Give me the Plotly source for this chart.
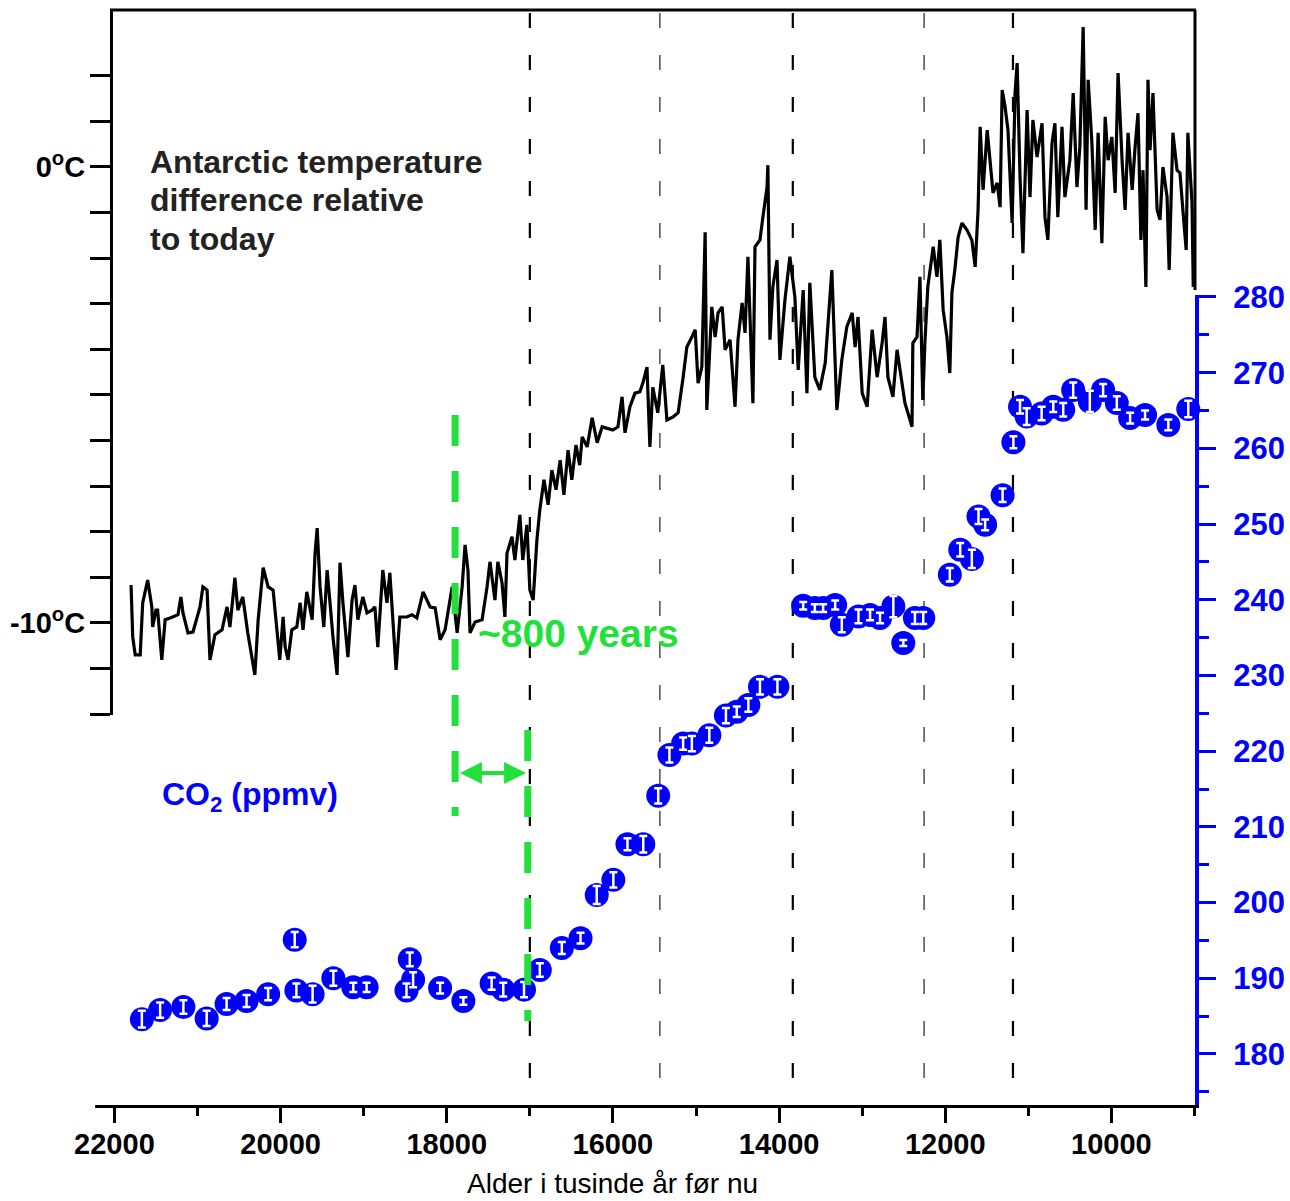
import plotly.graph_objects as go

W, H = 1290, 1201

# ---------------- data ----------------
temp_years = [
    21800, 21780, 21750, 21690, 21660, 21600, 21550, 21540, 21500, 21480,
    21430, 21390, 21330, 21235, 21200, 21175, 21115, 21055, 20970, 20935,
    20885, 20850, 20790, 20705, 20645, 20610, 20550, 20515, 20455, 20395,
    20310, 20270, 20210, 20150, 20090, 20045, 20010, 19970, 19945, 19910,
    19865, 19805, 19765, 19730, 19685, 19620, 19585, 19560, 19525, 19480,
    19440, 19405, 19370, 19320, 19285, 19250, 19190, 19140, 19105, 19070,
    19010, 18960, 18900, 18865, 18830, 18770, 18720, 18685, 18645, 18610,
    18565, 18480, 18420, 18360, 18285, 18200, 18140, 18080, 18020, 17935,
    17875, 17815, 17780, 17745, 17720, 17660, 17575, 17515, 17480, 17420,
    17385, 17335, 17300, 17275, 17215, 17180, 17120, 17085, 17035, 17000,
    16960, 16915, 16880, 16830, 16780, 16735, 16685, 16635, 16590, 16540,
    16495, 16445, 16400, 16370, 16310, 16250, 16190, 16130, 16000, 15940,
    15890, 15855, 15795, 15735, 15675, 15640, 15590, 15555, 15520, 15460,
    15400, 15350, 15275, 15215, 15155, 15110, 15050, 15010, 14975, 14930,
    14890, 14870, 14810, 14770, 14735, 14685, 14650, 14590, 14530, 14495,
    14445, 14410, 14375, 14315, 14290, 14230, 14195, 14145, 14135, 14110,
    14075, 14025, 13990, 13930, 13870, 13810, 13770, 13710, 13665, 13630,
    13570, 13510, 13445, 13365, 13305, 13245, 13185, 13120, 13085, 13050,
    13000, 12940, 12880, 12820, 12760, 12725, 12690, 12630, 12580, 12545,
    12485, 12450, 12400, 12390, 12340, 12305, 12270, 12245, 12210, 12145,
    12100, 12065, 12025, 11980, 11945, 11920, 11885, 11845, 11800, 11740,
    11680, 11640, 11605, 11580, 11545, 11495, 11460, 11425, 11375, 11340,
    11315, 11280, 11245, 11195, 11160, 11135, 11100, 11065, 11015, 10980,
    10945, 10895, 10835, 10800, 10765, 10715, 10680, 10645, 10595, 10560,
    10500, 10460, 10415, 10380, 10340, 10305, 10280, 10235, 10195, 10160,
    10115, 10075, 10040, 9995, 9955, 9920, 9870, 9835, 9800, 9750,
    9715, 9680, 9645, 9620, 9585, 9560, 9535, 9500, 9450, 9415,
    9380, 9330, 9305, 9260, 9210, 9175, 9140, 9100, 9080, 9030, 9015,
]
temp_values = [
    -9.17, -10.31, -10.70, -10.70, -9.56, -9.06, -9.65, -10.09, -9.72, -9.72,
    -10.81, -9.93, -9.89, -9.82, -9.43, -9.78, -10.22, -10.20, -9.65, -9.21,
    -9.28, -10.81, -10.26, -10.15, -9.65, -10.09, -9.01, -9.72, -9.43, -10.22,
    -11.14, -9.93, -8.79, -9.21, -9.28, -10.09, -10.81, -9.87, -10.53, -10.81,
    -10.15, -10.09, -9.56, -10.15, -9.32, -9.93, -8.47, -7.92, -9.21, -10.09,
    -8.84, -9.56, -10.31, -11.14, -8.68, -9.56, -10.75, -9.50, -9.17, -9.93,
    -9.43, -9.78, -9.72, -9.65, -10.53, -8.84, -9.56, -8.90, -9.93, -11.03,
    -9.87, -9.87, -9.82, -9.89, -9.32, -9.65, -9.67, -10.37, -10.15, -9.21,
    -10.22, -9.21, -8.29, -8.84, -10.22, -9.98, -9.93, -9.21, -8.66, -9.50,
    -8.66, -9.12, -9.87, -8.47, -8.11, -8.62, -7.63, -8.62, -7.85, -9.28,
    -9.50, -8.18, -7.52, -6.86, -7.41, -6.65, -7.08, -6.43, -7.19, -6.21,
    -6.86, -6.10, -6.54, -5.92, -6.14, -5.50, -6.05, -5.70, -5.77, -5.70,
    -5.04, -5.83, -5.26, -4.96, -4.93, -4.74, -4.39, -6.14, -4.83, -5.39,
    -4.34, -5.55, -5.48, -5.39, -4.61, -3.95, -3.73, -3.57, -4.74, -4.39,
    -1.43, -5.33, -3.07, -3.73, -3.20, -3.07, -4.01, -3.79, -5.26, -3.79,
    -2.98, -3.64, -1.97, -5.18, -1.75, -1.60, -1.10, -0.44, 0.04, -3.79,
    -2.63, -2.04, -4.23, -2.92, -1.97, -2.85, -4.45, -2.70, -4.96, -2.54,
    -4.61, -4.89, -4.30, -2.26, -5.33, -4.23, -3.51, -3.20, -3.95, -3.29,
    -4.96, -5.26, -3.57, -4.61, -3.86, -3.29, -4.61, -5.04, -4.01, -4.45,
    -5.18, -5.39, -5.70, -3.86, -3.73, -2.41, -5.11, -3.86, -2.63, -1.75,
    -2.41, -1.60, -3.14, -3.73, -4.52, -2.76, -2.26, -1.54, -1.23, -1.38,
    -1.60, -2.19, -0.94, 0.88, -0.50, 0.81, 0.09, -0.57, -0.35, -0.88,
    1.69, 1.32, 0.81, -1.23, 1.62, 2.28, -0.22, -1.89, 1.25, -0.66,
    1.03, 0.22, 0.96, -1.10, -1.60, 0.53, 0.96, -1.10, 0.88, -0.66,
    0.15, 1.62, -0.44, 0.44, 3.07, -0.94, 1.91, 0.53, -1.38, 0.75,
    -1.67, 1.10, 0.15, 0.66, -0.57, 2.06, 0.09, -0.94, 0.75, -0.50,
    0.44, 1.18, -1.60, -0.07, -2.63, 1.91, 0.37, 1.62, -0.94, -1.16,
    0.00, -0.66, -2.26, 0.75, -0.07, -0.13, -0.94, -1.82, 0.75, -0.79, -2.63,
]

co2_years = [
    21670, 21450, 21170, 20890, 20650, 20410, 20150, 19830, 19810, 19615,
    19365, 19125, 18965, 18485, 18445, 18405, 18080, 17800, 17460, 17320,
    17070, 16880, 16615, 16390, 16195, 15995, 15825, 15635, 15455, 15320,
    15155, 15050, 14840, 14640, 14510, 14370, 14230, 14020, 13710, 13570,
    13470, 13325, 13245, 13045, 12905, 12785, 12625, 12505, 12365, 12265,
    11945, 11820, 11680, 11600, 11520, 11310, 11180, 11100, 11020, 10840,
    10700, 10580, 10460, 10260, 10100, 9935, 9775, 9595, 9315, 9075,
]
co2_ppm = [
    184.6, 185.8, 186.2, 184.7, 186.6, 187.0, 187.9, 195.1, 188.4, 187.9,
    190.0, 188.8, 188.8, 188.4, 192.5, 189.8, 188.7, 187.0, 189.3, 188.5,
    188.5, 191.1, 194.0, 195.3, 201.0, 203.0, 207.7, 207.7, 214.1, 219.5,
    221.0, 221.0, 222.1, 224.7, 225.2, 226.1, 228.5, 228.5, 239.2, 238.9,
    238.9, 239.3, 236.7, 237.8, 238.0, 237.6, 239.1, 234.3, 237.6, 237.6,
    243.3, 246.6, 245.4, 251.0, 249.9, 253.8, 260.8, 265.5, 264.2, 264.6,
    265.5, 265.1, 267.7, 266.2, 267.7, 266.0, 264.0, 264.4, 263.1, 265.2,
]
co2_err = [
    1.1, 1.0, 0.9, 1.0, 0.8, 0.8, 0.8, 1.0, 0.9, 1.1,
    1.0, 0.6, 0.6, 0.9, 0.9, 1.0, 0.7, 0.5, 0.8, 0.9,
    1.0, 0.9, 0.8, 0.7, 1.2, 1.0, 0.8, 1.1, 1.0, 1.0,
    0.8, 1.0, 1.0, 1.0, 0.7, 0.9, 1.0, 1.0, 0.5, 0.5,
    0.5, 0.6, 1.0, 0.9, 0.7, 0.7, 1.4, 0.4, 0.8, 0.8,
    0.9, 0.9, 1.2, 1.0, 0.7, 0.9, 0.8, 0.9, 1.1, 0.9,
    0.7, 0.9, 1.0, 1.4, 0.8, 0.9, 0.7, 0.6, 0.7, 1.1,
]

event_years = [17000, 15435, 13835, 12255, 11185]
event_strong = [True, False, True, False, True]
lead_years = [17900, 17025]          # green markers of the CO2 lag
lag_text = "~800 years"
temp_label_lines = ["Antarctic temperature", "difference relative", "to today"]

temp_tick_vals = [-10, 0]
temp_tick_text = ["-10<sup>o</sup>C", "0<sup>o</sup>C"]
temp_minor_vals = [-12, -11, -9, -8, -7, -6, -5, -4, -3, -2, -1, 1, 2]

BLUE = "#0000FF"
GREEN = "#22E03A"
FONT = "Liberation Sans"


def px_x(p):
    return p / W


def px_y(p):
    return 1 - p / H


fig = go.Figure()

fig.add_trace(go.Scatter(
    x=temp_years, y=temp_values, xaxis="x", yaxis="y2", mode="lines",
    line=dict(color="black", width=3.2), hoverinfo="skip"))

fig.add_trace(go.Scatter(
    x=co2_years, y=co2_ppm, xaxis="x", yaxis="y", mode="markers",
    marker=dict(color=BLUE, size=24, line=dict(width=0)), cliponaxis=False,
    hoverinfo="skip"))

fig.add_trace(go.Scatter(
    x=co2_years, y=co2_ppm, xaxis="x", yaxis="y", mode="markers",
    marker=dict(color="rgba(0,0,0,0)", size=1),
    error_y=dict(type="data", array=co2_err, visible=True, color="white",
                 thickness=2.5, width=4),
    cliponaxis=False, hoverinfo="skip"))

shapes = []
for yr, strong in zip(event_years, event_strong):
    shapes.append(dict(type="line", xref="x", yref="paper", x0=yr, x1=yr,
                       y0=px_y(13), y1=px_y(1102), layer="below",
                       line=dict(color="black" if strong else "#333333",
                                 width=2.2 if strong else 1.3, dash="15px,27px")))

# temperature panel frame (top and upper right)
shapes.append(dict(type="line", xref="paper", yref="paper", x0=px_x(110), x1=px_x(1196),
                   y0=px_y(10), y1=px_y(10), line=dict(color="black", width=3)))
shapes.append(dict(type="line", xref="paper", yref="paper", x0=px_x(1195), x1=px_x(1195),
                   y0=px_y(10), y1=px_y(290), line=dict(color="black", width=3)))

# green lag markers
shapes.append(dict(type="line", xref="x", yref="paper", x0=lead_years[0], x1=lead_years[0],
                   y0=px_y(415), y1=px_y(816), line=dict(color=GREEN, width=7, dash="31px,25px")))
shapes.append(dict(type="line", xref="x", yref="paper", x0=lead_years[1], x1=lead_years[1],
                   y0=px_y(730), y1=px_y(1021), line=dict(color=GREEN, width=7, dash="31px,25px")))

annotations = [
    dict(x=lead_years[1] + 20, y=px_y(773), xref="x", yref="paper",
         ax=lead_years[0] - 40, ay=0, axref="x", ayref="pixel",
         showarrow=True, arrowside="end+start", arrowhead=2, startarrowhead=2,
         arrowsize=1.1, startarrowsize=1.1, arrowwidth=4, arrowcolor=GREEN,
         standoff=0, startstandoff=0, text=""),
    dict(x=px_x(476), y=px_y(633), xref="paper", yref="paper", xanchor="left",
         yanchor="middle", showarrow=False, text=lag_text,
         font=dict(family=FONT, size=39, color=GREEN, weight="bold")),
    dict(x=px_x(160), y=px_y(796), xref="paper", yref="paper", xanchor="left",
         yanchor="middle", showarrow=False, text="CO<sub>2</sub> (ppmv)",
         font=dict(family=FONT, size=32, color=BLUE, weight="bold")),
    dict(x=px_x(612), y=0, xref="paper", yref="paper", xanchor="center",
         yanchor="bottom", showarrow=False, text="Alder i tusinde år før nu",
         font=dict(family=FONT, size=28, color="black")),
]
for line_text, line_y in zip(temp_label_lines, [162, 200, 239]):
    annotations.append(dict(
        x=px_x(148), y=px_y(line_y), xref="paper", yref="paper", xanchor="left",
        yanchor="middle", align="left", showarrow=False, text=line_text,
        font=dict(family=FONT, size=32, color="#222222", weight="bold")))

fig.update_layout(
    width=W, height=H, autosize=False, template="none",
    margin=dict(l=0, r=0, t=0, b=0, pad=0),
    paper_bgcolor="white", plot_bgcolor="rgba(0,0,0,0)",
    showlegend=False, font=dict(family=FONT, color="black"),
    shapes=shapes, annotations=annotations,
    xaxis=dict(
        domain=[px_x(95), px_x(1195)], range=[22234, 8994], anchor="y",
        showgrid=False, zeroline=False, showline=True, linecolor="black", linewidth=3,
        tickmode="linear", tick0=0, dtick=2000, tickformat="d",
        ticks="outside", ticklen=15, tickwidth=3, tickcolor="black",
        minor=dict(dtick=1000, tick0=0, ticks="outside", ticklen=8, tickwidth=3,
                   tickcolor="black", showgrid=False),
        tickfont=dict(family=FONT, size=29, color="black", weight="bold"),
        ticklabelstandoff=-4, automargin=False,
    ),
    yaxis=dict(
        domain=[px_y(1105), px_y(295)], range=[173.26, 280.26], anchor="x", side="right",
        showgrid=False, zeroline=False, showline=True, linecolor=BLUE, linewidth=4,
        tickmode="linear", tick0=0, dtick=10,
        ticks="outside", ticklen=17, tickwidth=3, tickcolor=BLUE,
        minor=dict(dtick=5, tick0=0, ticks="outside", ticklen=10, tickwidth=3,
                   tickcolor=BLUE, showgrid=False),
        tickfont=dict(family=FONT, size=31, color=BLUE, weight="bold"),
        ticklabelstandoff=11, automargin=False,
    ),
    yaxis2=dict(
        domain=[px_y(715), px_y(10)], range=[-12.02, 3.443], anchor="free",
        position=px_x(111), side="left",
        showgrid=False, zeroline=False, showline=True, linecolor="black", linewidth=3,
        tickmode="array", tickvals=temp_tick_vals, ticktext=temp_tick_text,
        ticks="outside", ticklen=20, tickwidth=3, tickcolor="black",
        minor=dict(tickmode="array", tickvals=temp_minor_vals, ticks="outside", ticklen=20,
                   tickwidth=3, tickcolor="black", showgrid=False),
        tickfont=dict(family=FONT, size=29, color="black", weight="bold"),
        ticklabelstandoff=-1, automargin=False,
    ),
)

fig.write_html(
    "out.html",
    config={"displayModeBar": False},
    post_script="document.body.style.margin='0px';document.body.style.overflow='hidden';",
)
